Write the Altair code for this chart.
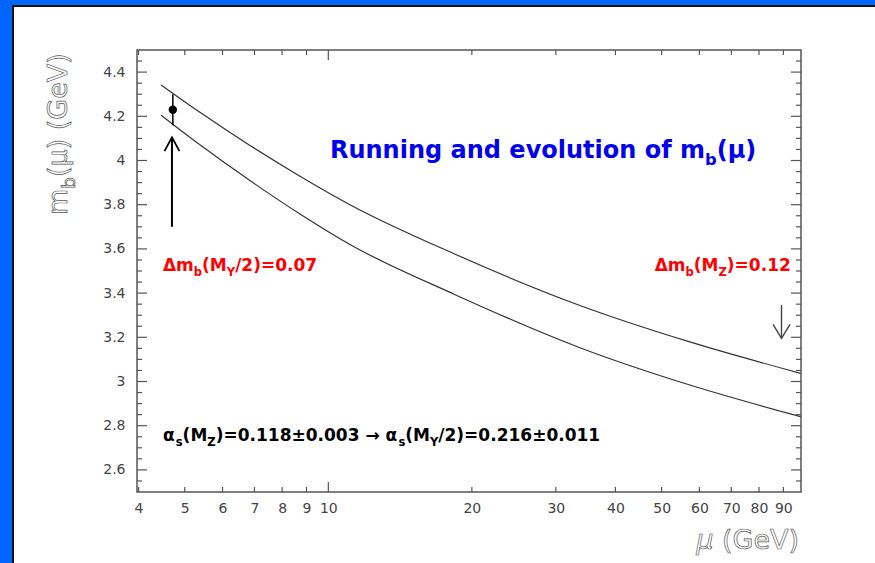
import altair as alt
import pandas as pd

# ---------------- data ----------------
mu_vals = [4.46, 5.38, 6.85, 8.72, 11.1, 18.4, 33.7, 57.3, 97.8]
upper_vals = [4.342, 4.218, 4.068, 3.929, 3.800, 3.577, 3.344, 3.179, 3.037]
lower_vals = [4.205, 4.071, 3.909, 3.758, 3.620, 3.394, 3.153, 2.984, 2.841]

point_mu = [4.72]
point_m = [4.23]
point_lo = [4.16]
point_hi = [4.30]

up_arrow_mu = [4.70]
up_arrow_from = [3.70]
up_arrow_to = [4.105]

down_arrow_mu = [89.2]
down_arrow_from = [3.346]
down_arrow_to = [3.195]

x_tick_labels = [4, 5, 6, 7, 8, 9, 10, 20, 30, 40, 50, 60, 70, 80, 90]
x_minor_ticks = [4, 5, 6, 7, 8, 9, 20, 30, 40, 50, 60, 70, 80, 90]
x_major_ticks = [10]
y_major_ticks = [2.6, 2.8, 3.0, 3.2, 3.4, 3.6, 3.8, 4.0, 4.2, 4.4]
y_minor_ticks = [round(2.55 + 0.05 * i, 2) for i in range(39)]
y_minor_ticks = [v for v in y_minor_ticks if v not in y_major_ticks]

# ---------------- layout ----------------
W, H = 664, 442
PAD = {"left": 137, "top": 50, "right": 875 - 137 - W, "bottom": 563 - 50 - H}
XS = alt.Scale(type="log", domain=[3.97, 98], nice=False)
YS = alt.Scale(domain=[2.5, 4.5], nice=False, zero=False)
AX = "#555555"
FONT = "DejaVu Sans"

one = pd.DataFrame({"k": [0]})

BOLD = {" ": 0.348, ".": 0.380, "(": 0.457, ")": 0.457, "=": 0.838, "/": 0.365,
        "±": 0.838, "→": 0.838, "M": 0.995, "Z": 0.725, "Υ": 0.724, "R": 0.770,
        "m": 1.042, "b": 0.716, "s": 0.595, "u": 0.712, "n": 0.712, "i": 0.343,
        "g": 0.716, "a": 0.675, "d": 0.716, "e": 0.678, "v": 0.652, "o": 0.687,
        "l": 0.343, "t": 0.478, "f": 0.435, "α": 0.752, "Δ": 0.774, "μ": 0.722}
for _d in "0123456789":
    BOLD[_d] = 0.696
NORM = {"m": 0.974, "b": 0.635, "(": 0.390, ")": 0.390, "μ": 0.603, " ": 0.318,
        "G": 0.775, "e": 0.615, "V": 0.684}


def tw(s, table):
    return sum(table.get(c, 0.65) for c in s)


def rich(parts, x, y, size, table, anchor="left", angle=0, sub_scale=0.68,
         sub_dy=0.30, **style):
    widths = [tw(t, table) * (size * sub_scale if sub else size) for t, sub in parts]
    off = 0.0 if anchor == "left" else -sum(widths)
    out = []
    for (t, sub), w in zip(parts, widths):
        s = size * sub_scale if sub else size
        out.append(
            alt.Chart(one).mark_text(
                text=t, align="left", baseline="alphabetic", dx=off,
                dy=size * sub_dy if sub else 0, fontSize=s, font=FONT,
                angle=angle, **style
            ).encode(x=x, y=y)
        )
        off += w
    return out


def dx_(v):
    return alt.X(datum=v, type="quantitative", scale=XS)


def dy_(v):
    return alt.Y(datum=v, type="quantitative", scale=YS)


# ---------------- curves ----------------
curves = pd.DataFrame({
    "mu": mu_vals * 2,
    "m": upper_vals + lower_vals,
    "band": ["upper"] * len(mu_vals) + ["lower"] * len(mu_vals),
})

base_line = alt.Chart(curves).mark_line(
    color="#333333", strokeWidth=1.2, interpolate="monotone"
).encode(
    x=alt.X("mu:Q", scale=XS,
            axis=alt.Axis(values=x_tick_labels, format="~g", title=None, grid=False,
                          ticks=False, domain=False, labelFont=FONT, labelFontSize=14,
                          labelColor="#444444", labelPadding=9, labelFlush=False,
                          labelOverlap=False)),
    y=alt.Y("m:Q", scale=YS,
            axis=alt.Axis(values=y_major_ticks, format="~g", title=None, grid=False,
                          ticks=False, domain=False, labelFont=FONT, labelFontSize=14,
                          labelColor="#444444", labelPadding=12)),
    detail="band:N",
)

# ---------------- ticks (inward) ----------------
def yticks(vals, length, side):
    df = pd.DataFrame({"v": vals})
    if side == "left":
        enc = dict(x=alt.value(0), x2=alt.value(length))
    else:
        enc = dict(x=alt.value(W - length), x2=alt.value(W))
    return alt.Chart(df).mark_rule(color=AX, strokeWidth=1.2).encode(
        y=alt.Y("v:Q", scale=YS), **enc)


def xticks(vals, length, side):
    df = pd.DataFrame({"v": vals})
    if side == "bottom":
        enc = dict(y=alt.value(H - length), y2=alt.value(H))
    else:
        enc = dict(y=alt.value(0), y2=alt.value(length))
    return alt.Chart(df).mark_rule(color=AX, strokeWidth=1.2).encode(
        x=alt.X("v:Q", scale=XS), **enc)


ticks = [
    yticks(y_major_ticks, 10, "left"), yticks(y_minor_ticks, 5, "left"),
    yticks(y_major_ticks, 10, "right"), yticks(y_minor_ticks, 5, "right"),
    xticks(x_minor_ticks, 5, "bottom"), xticks(x_major_ticks, 10, "bottom"),
    xticks(x_minor_ticks, 5, "top"), xticks(x_major_ticks, 10, "top"),
]

# ---------------- measured point ----------------
pt = pd.DataFrame({"mu": point_mu, "m": point_m, "lo": point_lo, "hi": point_hi})
err = alt.Chart(pt).mark_rule(color="black", strokeWidth=1.5).encode(
    x=alt.X("mu:Q", scale=XS), y=alt.Y("lo:Q", scale=YS), y2="hi:Q")
dot = alt.Chart(pt).mark_point(filled=True, color="black", size=70, opacity=1).encode(
    x=alt.X("mu:Q", scale=XS), y=alt.Y("m:Q", scale=YS))

# ---------------- arrows ----------------
ua = pd.DataFrame({"mu": up_arrow_mu, "a": up_arrow_from, "b": up_arrow_to})
up_shaft = alt.Chart(ua).mark_rule(color="black", strokeWidth=2).encode(
    x=alt.X("mu:Q", scale=XS), y=alt.Y("a:Q", scale=YS), y2="b:Q")
up_head = alt.Chart(ua).mark_point(
    shape="M-1,1.85L0,0L1,1.85", filled=False, color="black", strokeWidth=1.8,
    size=225, opacity=1).encode(x=alt.X("mu:Q", scale=XS), y=alt.Y("b:Q", scale=YS))

da = pd.DataFrame({"mu": down_arrow_mu, "a": down_arrow_from, "b": down_arrow_to})
down_shaft = alt.Chart(da).mark_rule(color="#444444", strokeWidth=1.4).encode(
    x=alt.X("mu:Q", scale=XS), y=alt.Y("a:Q", scale=YS), y2="b:Q")
down_head = alt.Chart(da).mark_point(
    shape="M-1,-1.65L0,0L1,-1.65", filled=False, color="#444444", strokeWidth=1.4,
    size=289, opacity=1).encode(x=alt.X("mu:Q", scale=XS), y=alt.Y("b:Q", scale=YS))

# ---------------- texts ----------------
texts = []
texts += rich([("Running and evolution of m", False), ("b", True), ("(μ)", False)],
              dx_(10.08), dy_(4.01), 24, BOLD, fontWeight="bold", color="#0000ee")
texts += rich([("Δm", False), ("b", True), ("(M", False), ("Υ", True), ("/2)=0.07", False)],
              dx_(4.50), dy_(3.50), 17, BOLD, fontWeight="bold", color="#ff0000")
texts += rich([("Δm", False), ("b", True), ("(M", False), ("Z", True), (")=0.12", False)],
              dx_(93.3), dy_(3.50), 17, BOLD, anchor="right", fontWeight="bold",
              color="#ff0000")
texts += rich([("α", False), ("s", True), ("(M", False), ("Z", True),
               (")=0.118±0.003 → α", False), ("s", True), ("(M", False), ("Υ", True),
               ("/2)=0.216±0.011", False)],
              dx_(4.50), dy_(2.73), 17, BOLD, fontWeight="bold", color="black")

# axis titles (outlined, grey)
outline = dict(fill="white", stroke="#555555", strokeWidth=0.7, fontWeight="normal")
texts += rich([("m", False), ("b", True), ("(μ) (GeV)", False)],
              alt.value(-70), alt.value(165), 27, NORM, angle=270, **outline)
texts += [
    alt.Chart(one).mark_text(text=" (GeV)", align="right", baseline="alphabetic",
                             fontSize=27, font=FONT, **outline).encode(
        x=alt.value(662), y=alt.value(499)),
    alt.Chart(one).mark_text(text="μ", align="right", baseline="alphabetic",
                             fontSize=27, font=FONT, fontStyle="italic",
                             dx=-tw(" (GeV)", NORM) * 27, **outline).encode(
        x=alt.value(662), y=alt.value(499)),
]

# ---------------- blue frame ----------------
def box(x1, x2, y1, y2, color):
    return alt.Chart(one).mark_rect(color=color, opacity=1).encode(
        x=alt.value(x1 - PAD["left"]), x2=alt.value(x2 - PAD["left"]),
        y=alt.value(y1 - PAD["top"]), y2=alt.value(y2 - PAD["top"]))

frame = [
    box(0, 12, 0, 563, "#0066ff"),
    box(0, 875, 0, 5, "#0066ff"),
    box(12, 14, 5, 563, "#111111"),
    box(12, 875, 5, 7, "#111111"),
]

chart = alt.layer(
    base_line, *ticks, err, dot, up_shaft, up_head, down_shaft, down_head,
    *texts, *frame
).properties(
    width=W, height=H, padding=PAD,
    autosize=alt.AutoSizeParams(type="none"),
    background="white",
).configure_view(stroke=AX, strokeWidth=1.5)

chart.save("out.html", embed_options={"renderer": "svg", "actions": False})
